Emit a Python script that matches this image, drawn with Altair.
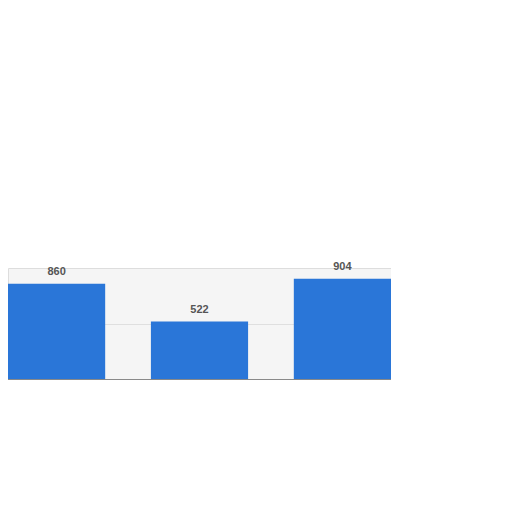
import altair as alt
import pandas as pd

categories = ["A", "B", "C"]
values = [860, 522, 904]
labels = ["860", "522", "904"]

df = pd.DataFrame({"cat": categories, "value": values, "label": labels})

x = alt.X("cat:N", sort=categories, axis=None,
          scale=alt.Scale(paddingInner=0.32, paddingOuter=0))
y = alt.Y("value:Q", scale=alt.Scale(domain=[0, 1000], nice=False),
          axis=alt.Axis(values=[500], grid=True, gridDash=[1, 1], gridColor="#c8c8c8",
                        labels=False, ticks=False, domain=False, title=None))

bars = alt.Chart(df).mark_bar(color="#2a76d8").encode(x=x, y=y)
text = alt.Chart(df).mark_text(dy=-12, fontSize=11, fontWeight="bold", color="#555555",
                               font="Liberation Sans").encode(x=x, y=y, text="label:N")
base = alt.Chart(df).mark_rule(color="#888888", strokeWidth=1.5).encode(
    x=alt.value(0), x2=alt.value(383), y=alt.value(112))

chart = (bars + text + base).properties(
    width=383, height=112,
    padding={"left": 0, "top": 260, "right": 0, "bottom": 0},
    autosize=alt.AutoSizeParams(type="none"),
).configure_view(fill="#f5f5f5", stroke="#dddddd")

chart.save("out.html", embed_options={"renderer": "svg", "actions": False})
